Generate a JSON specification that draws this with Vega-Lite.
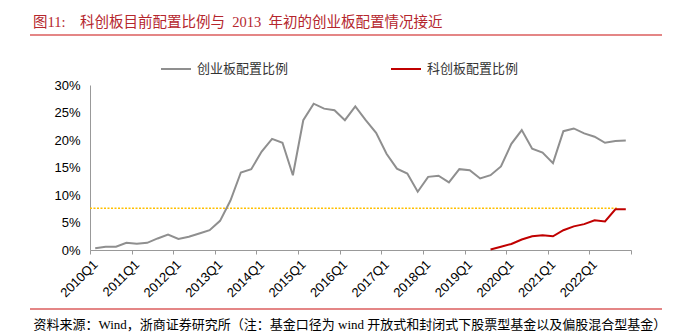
{
  "$schema": "https://vega.github.io/schema/vega-lite/v6.json",
  "width": 632,
  "height": 274,
  "autosize": {"type": "none"},
  "padding": {"left": 30, "top": 35, "right": 28, "bottom": 26},
  "view": {"stroke": "#dc5f5f", "strokeWidth": 1.5, "strokeDash": [632, 274], "fill": null},
  "title": {
    "text": "图11:\u00a0\u00a0\u00a0\u00a0科创板目前配置比例与\u00a0\u00a02013\u00a0\u00a0年初的创业板配置情况接近",
    "anchor": "start",
    "frame": "group",
    "dx": 3,
    "offset": 5,
    "font": "Liberation Serif, Noto Sans CJK SC",
    "fontSize": 14.5,
    "fontWeight": "normal",
    "color": "#b5262d"
  },
  "datasets": {
    "ratios": [
      {"quarter": "2010Q1", "series": "创业板配置比例", "ratio": 0.003},
      {"quarter": "2010Q2", "series": "创业板配置比例", "ratio": 0.006},
      {"quarter": "2010Q3", "series": "创业板配置比例", "ratio": 0.006},
      {"quarter": "2010Q4", "series": "创业板配置比例", "ratio": 0.013},
      {"quarter": "2011Q1", "series": "创业板配置比例", "ratio": 0.0115},
      {"quarter": "2011Q2", "series": "创业板配置比例", "ratio": 0.013},
      {"quarter": "2011Q3", "series": "创业板配置比例", "ratio": 0.021},
      {"quarter": "2011Q4", "series": "创业板配置比例", "ratio": 0.028},
      {"quarter": "2012Q1", "series": "创业板配置比例", "ratio": 0.02},
      {"quarter": "2012Q2", "series": "创业板配置比例", "ratio": 0.024},
      {"quarter": "2012Q3", "series": "创业板配置比例", "ratio": 0.03},
      {"quarter": "2012Q4", "series": "创业板配置比例", "ratio": 0.036},
      {"quarter": "2013Q1", "series": "创业板配置比例", "ratio": 0.053},
      {"quarter": "2013Q2", "series": "创业板配置比例", "ratio": 0.09},
      {"quarter": "2013Q3", "series": "创业板配置比例", "ratio": 0.141},
      {"quarter": "2013Q4", "series": "创业板配置比例", "ratio": 0.147},
      {"quarter": "2014Q1", "series": "创业板配置比例", "ratio": 0.179},
      {"quarter": "2014Q2", "series": "创业板配置比例", "ratio": 0.202},
      {"quarter": "2014Q3", "series": "创业板配置比例", "ratio": 0.195},
      {"quarter": "2014Q4", "series": "创业板配置比例", "ratio": 0.136},
      {"quarter": "2015Q1", "series": "创业板配置比例", "ratio": 0.236},
      {"quarter": "2015Q2", "series": "创业板配置比例", "ratio": 0.266},
      {"quarter": "2015Q3", "series": "创业板配置比例", "ratio": 0.257},
      {"quarter": "2015Q4", "series": "创业板配置比例", "ratio": 0.254},
      {"quarter": "2016Q1", "series": "创业板配置比例", "ratio": 0.236},
      {"quarter": "2016Q2", "series": "创业板配置比例", "ratio": 0.261},
      {"quarter": "2016Q3", "series": "创业板配置比例", "ratio": 0.236},
      {"quarter": "2016Q4", "series": "创业板配置比例", "ratio": 0.213},
      {"quarter": "2017Q1", "series": "创业板配置比例", "ratio": 0.175},
      {"quarter": "2017Q2", "series": "创业板配置比例", "ratio": 0.148},
      {"quarter": "2017Q3", "series": "创业板配置比例", "ratio": 0.139},
      {"quarter": "2017Q4", "series": "创业板配置比例", "ratio": 0.106},
      {"quarter": "2018Q1", "series": "创业板配置比例", "ratio": 0.133},
      {"quarter": "2018Q2", "series": "创业板配置比例", "ratio": 0.135},
      {"quarter": "2018Q3", "series": "创业板配置比例", "ratio": 0.123},
      {"quarter": "2018Q4", "series": "创业板配置比例", "ratio": 0.147},
      {"quarter": "2019Q1", "series": "创业板配置比例", "ratio": 0.145},
      {"quarter": "2019Q2", "series": "创业板配置比例", "ratio": 0.13},
      {"quarter": "2019Q3", "series": "创业板配置比例", "ratio": 0.136},
      {"quarter": "2019Q4", "series": "创业板配置比例", "ratio": 0.152},
      {"quarter": "2020Q1", "series": "创业板配置比例", "ratio": 0.193},
      {"quarter": "2020Q2", "series": "创业板配置比例", "ratio": 0.218},
      {"quarter": "2020Q3", "series": "创业板配置比例", "ratio": 0.184},
      {"quarter": "2020Q4", "series": "创业板配置比例", "ratio": 0.177},
      {"quarter": "2021Q1", "series": "创业板配置比例", "ratio": 0.158},
      {"quarter": "2021Q2", "series": "创业板配置比例", "ratio": 0.216},
      {"quarter": "2021Q3", "series": "创业板配置比例", "ratio": 0.221},
      {"quarter": "2021Q4", "series": "创业板配置比例", "ratio": 0.212},
      {"quarter": "2022Q1", "series": "创业板配置比例", "ratio": 0.206},
      {"quarter": "2022Q2", "series": "创业板配置比例", "ratio": 0.195},
      {"quarter": "2022Q3", "series": "创业板配置比例", "ratio": 0.198},
      {"quarter": "2022Q4", "series": "创业板配置比例", "ratio": 0.199},
      {"quarter": "2019Q3", "series": "科创板配置比例", "ratio": 0.001},
      {"quarter": "2019Q4", "series": "科创板配置比例", "ratio": 0.006},
      {"quarter": "2020Q1", "series": "科创板配置比例", "ratio": 0.011},
      {"quarter": "2020Q2", "series": "科创板配置比例", "ratio": 0.019},
      {"quarter": "2020Q3", "series": "科创板配置比例", "ratio": 0.025},
      {"quarter": "2020Q4", "series": "科创板配置比例", "ratio": 0.027},
      {"quarter": "2021Q1", "series": "科创板配置比例", "ratio": 0.025},
      {"quarter": "2021Q2", "series": "科创板配置比例", "ratio": 0.036},
      {"quarter": "2021Q3", "series": "科创板配置比例", "ratio": 0.043},
      {"quarter": "2021Q4", "series": "科创板配置比例", "ratio": 0.047},
      {"quarter": "2022Q1", "series": "科创板配置比例", "ratio": 0.054},
      {"quarter": "2022Q2", "series": "科创板配置比例", "ratio": 0.052},
      {"quarter": "2022Q3", "series": "科创板配置比例", "ratio": 0.074},
      {"quarter": "2022Q4", "series": "科创板配置比例", "ratio": 0.074}
    ],
    "ref": [
      {"start": "2010Q1", "end": "2022Q3", "level": 0.076}
    ]
  },
  "layer": [
    {
      "data": {"name": "ref"},
      "mark": {"type": "rule", "color": "#ffc000", "strokeWidth": 1.5, "strokeDash": [2, 1.5]},
      "encoding": {
        "x": {"field": "start", "type": "ordinal", "bandPosition": 0},
        "x2": {"field": "end", "bandPosition": 0.7},
        "y": {"field": "level", "type": "quantitative"}
      }
    },
    {
      "data": {"name": "ratios"},
      "mark": {"type": "line", "strokeWidth": 2},
      "encoding": {
        "x": {
          "field": "quarter",
          "type": "ordinal",
          "bandPosition": 0.5,
          "scale": {
            "type": "band",
            "domain": ["2010Q1","2010Q2","2010Q3","2010Q4","2011Q1","2011Q2","2011Q3","2011Q4","2012Q1","2012Q2","2012Q3","2012Q4","2013Q1","2013Q2","2013Q3","2013Q4","2014Q1","2014Q2","2014Q3","2014Q4","2015Q1","2015Q2","2015Q3","2015Q4","2016Q1","2016Q2","2016Q3","2016Q4","2017Q1","2017Q2","2017Q3","2017Q4","2018Q1","2018Q2","2018Q3","2018Q4","2019Q1","2019Q2","2019Q3","2019Q4","2020Q1","2020Q2","2020Q3","2020Q4","2021Q1","2021Q2","2021Q3","2021Q4","2022Q1","2022Q2","2022Q3","2022Q4"],
            "range": [60, 601],
            "paddingInner": 0,
            "paddingOuter": 0
          },
          "axis": {
            "orient": "bottom",
            "offset": -59,
            "grid": false,
            "tickBand": "extent",
            "tickSize": 4,
            "tickColor": "#999999",
            "tickOpacity": {"condition": {"test": "datum.value == null || slice(datum.value, -2) == 'Q4'", "value": 1}, "value": 0},
            "domainColor": "#999999",
            "domainWidth": 1,
            "labelAngle": -45,
            "labelAlign": "right",
            "labelBaseline": "middle",
            "labelPadding": 8,
            "labelFont": "Liberation Sans",
            "labelFontSize": 13,
            "labelColor": "#000000",
            "labelExpr": "slice(datum.label, -2) == 'Q1' ? datum.label : ''",
            "title": "资料来源：Wind，浙商证券研究所（注：基金口径为 wind 开放式和封闭式下股票型基金以及偏股混合型基金）",
            "titleFont": "Liberation Serif, Noto Sans CJK SC",
            "titleFontSize": 13,
            "titleFontWeight": "normal",
            "titleColor": "#000000",
            "titleAnchor": "start",
            "titleAlign": "left",
            "titleBaseline": "middle",
            "titleX": 3,
            "titleY": 74
          }
        },
        "y": {
          "field": "ratio",
          "type": "quantitative",
          "scale": {"domain": [0, 0.3], "range": [215, 50], "nice": false, "zero": true},
          "axis": {
            "orient": "left",
            "offset": -60,
            "values": [0, 0.05, 0.1, 0.15, 0.2, 0.25, 0.3],
            "format": ".0%",
            "grid": false,
            "ticks": false,
            "domainColor": "#999999",
            "domainWidth": 1,
            "labelFont": "Liberation Sans",
            "labelFontSize": 13,
            "labelColor": "#000000",
            "labelPadding": 10,
            "title": null
          }
        },
        "color": {
          "field": "series",
          "type": "nominal",
          "scale": {"domain": ["创业板配置比例", "科创板配置比例"], "range": ["#8f8f8f", "#c00000"]},
          "legend": {
            "orient": "none",
            "legendX": 130,
            "legendY": 18,
            "direction": "horizontal",
            "title": null,
            "padding": 0,
            "symbolType": "stroke",
            "symbolSize": 900,
            "symbolStrokeWidth": 2,
            "labelFont": "Liberation Serif, Noto Sans CJK SC",
            "labelFontSize": 13,
            "labelColor": "#333333",
            "labelOffset": 5,
            "columnPadding": 98
          }
        }
      }
    }
  ]
}
